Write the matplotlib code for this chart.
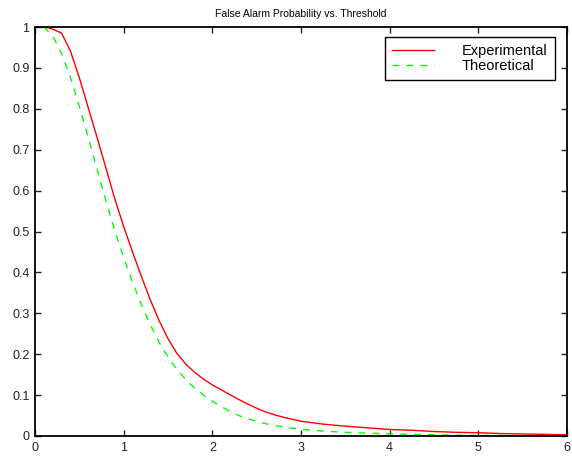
import matplotlib
matplotlib.use('Agg')
import matplotlib.pyplot as plt

plt.rcParams['font.family'] = ['Liberation Sans', 'DejaVu Sans']

# Threshold values (x) and probabilities
x_fine = [0.1, 0.2, 0.3, 0.4, 0.5, 0.6, 0.7, 0.8, 0.9, 1.0,
          1.1, 1.2, 1.3, 1.4, 1.5, 1.6, 1.7, 1.8, 1.9, 2.0,
          2.1, 2.2, 2.3, 2.4, 2.5, 2.6, 2.7, 2.8, 2.9, 3.0]
x_coarse = [3.25, 3.5, 3.75, 4.0, 4.25, 4.5, 4.75, 5.0, 5.25, 5.5, 5.75, 6.0]
threshold = x_fine + x_coarse

experimental = [1.000, 0.995, 0.985, 0.941, 0.876, 0.803, 0.730, 0.655, 0.580, 0.512,
                0.450, 0.390, 0.333, 0.282, 0.238, 0.202, 0.176, 0.156, 0.139, 0.125,
                0.113, 0.101, 0.089, 0.078, 0.068, 0.059, 0.052, 0.046, 0.041, 0.036,
                0.029, 0.024, 0.020, 0.016, 0.014, 0.011, 0.009, 0.008, 0.006, 0.005,
                0.004, 0.003]
theoretical = [1.000, 0.978, 0.935, 0.877, 0.806, 0.730, 0.652, 0.575, 0.502, 0.436,
               0.376, 0.321, 0.272, 0.229, 0.193, 0.163, 0.138, 0.117, 0.100, 0.085,
               0.072, 0.060, 0.050, 0.042, 0.036, 0.030, 0.026, 0.022, 0.019, 0.016,
               0.012, 0.009, 0.007, 0.005, 0.004, 0.003, 0.002, 0.0015, 0.0012, 0.001,
               0.0007, 0.0005]

fig = plt.figure(figsize=(5.72, 4.57), dpi=100)
ax = fig.add_axes([35 / 572, 1 - 436 / 457, 532 / 572, 409 / 457])

ax.plot(threshold, experimental, color='#ff0000', lw=1.0, label='Experimental')
ax.plot(threshold, theoretical, color='#00ff00', lw=1.0, dashes=(5, 5), label='Theoretical')

ax.set_xlim(0, 6)
ax.set_ylim(0, 1)
ax.set_xticks(range(0, 7))
ax.set_yticks([0, 0.1, 0.2, 0.3, 0.4, 0.5, 0.6, 0.7, 0.8, 0.9, 1])
ax.set_yticklabels(['0', '0.1', '0.2', '0.3', '0.4', '0.5', '0.6', '0.7', '0.8', '0.9', '1'])
ax.tick_params(direction='in', length=4, width=1, top=True, right=True,
               labelsize=9, colors='#222222', pad=4)
for s in ax.spines.values():
    s.set_linewidth(1.3)

ax.set_title('False Alarm Probability vs. Threshold', fontsize=7.5, pad=7)

leg = ax.legend(loc='upper right', bbox_to_anchor=(520 / 532, 1 - 10 / 409),
                fontsize=10.5, handlelength=2.9, handletextpad=1.9,
                fancybox=False, framealpha=1, edgecolor='black',
                borderpad=0.5, labelspacing=0.05, borderaxespad=0)
leg.get_frame().set_linewidth(1.0)

fig.savefig('out.png', dpi=100)
